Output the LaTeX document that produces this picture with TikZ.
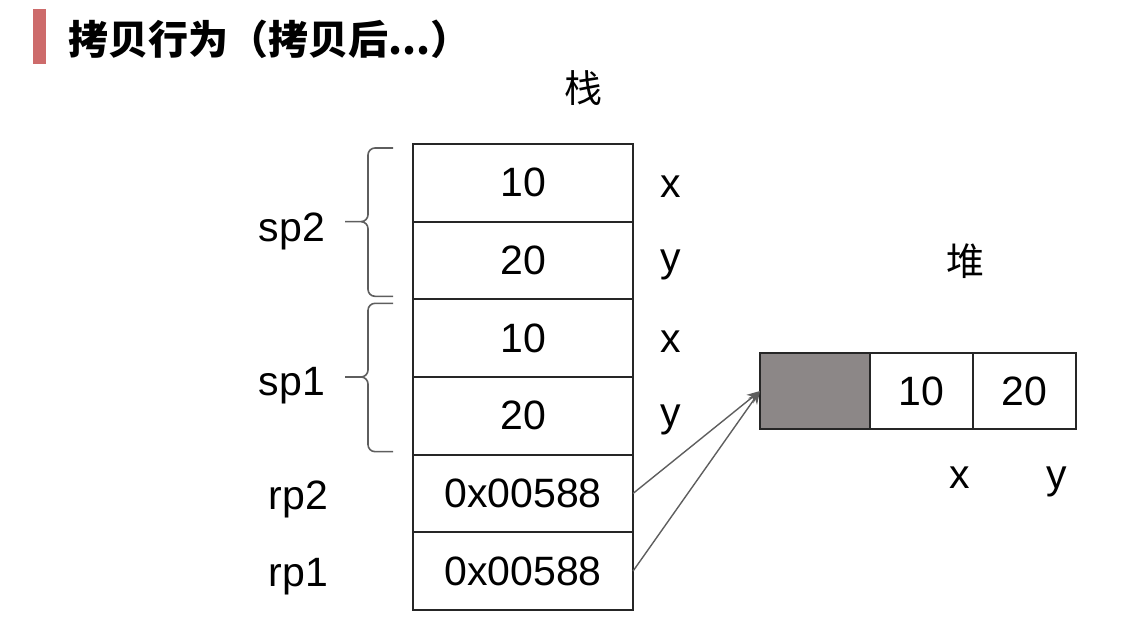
\documentclass[tikz,border=0pt]{standalone}
\usepackage{fontspec}
\setmainfont{Liberation Sans}
\newfontfamily\cjk{Noto Sans CJK SC}
\usetikzlibrary{positioning, arrows.meta}
\definecolor{barred}{HTML}{CD6B6B}
\definecolor{heapgray}{HTML}{8C8787}
\definecolor{linegray}{HTML}{5E5E5E}

\begin{document}
\begin{tikzpicture}[x=0.5pt, y=-0.5pt,
  every node/.style={inner sep=0pt, outer sep=0pt, font=\fontsize{20.5}{24}\selectfont},
  cell/.style={draw=black!85, line width=1.1pt, minimum width=110pt, minimum height=38.83pt},
  hcell/.style={cell, minimum width=51.5pt, minimum height=38pt},
  hd/.style={font=\fontsize{19}{22}\selectfont\cjk},
  side/.style={yshift=-2pt},
  brc/.style={draw=linegray, line width=0.8pt, rounded corners=3.5pt},
  ptr/.style={draw=linegray, line width=0.7pt, -{Stealth[length=6.5pt, width=5.5pt]}}]
  \useasboundingbox (0,0) rectangle (1128,624);
  \fill[barred] (33,9) rectangle (46,64);
  \node[anchor=west, font=\fontsize{20}{24}\selectfont\cjk\bfseries] (title) at (68,39) {拷贝行为（拷贝后...）};

  \node[cell, anchor=north west] (s1) at (413,144) {10};
  \node[cell, below=0pt of s1] (s2) {20};
  \node[cell, below=0pt of s2] (s3) {10};
  \node[cell, below=0pt of s3] (s4) {20};
  \node[cell, below=0pt of s4] (s5) {0x00588};
  \node[cell, below=0pt of s5] (s6) {0x00588};
  \node[hd, above=19pt of s1, xshift=30pt] (stack) {栈};
  \foreach \c/\v in {s1/x, s2/y, s3/x, s4/y}
    \node[side, right=13.5pt of \c] (\c v) {\v};

  \node[side, left=44pt of s1.south west, yshift=-3pt] (sp2) {sp2};
  \node[side, left=44pt of s3.south west, yshift=-2.5pt] (sp1) {sp1};
  \node[side, left=42.5pt of s5, yshift=-1pt] (rp2) {rp2};
  \node[side, left=42.5pt of s6, yshift=-1pt] (rp1) {rp1};
  \foreach \t/\b in {s1/s2, s3/s4}
    \draw[brc] ([xshift=-10pt, yshift=-2pt]\t.north west) -| ([xshift=-22.5pt]\t.south west) -- ([xshift=-34pt]\t.south west)
      ([xshift=-34pt]\t.south west) -- ([xshift=-22.5pt]\t.south west) |- ([xshift=-10pt, yshift=1.5pt]\b.south west);

  \node[cell, fill=heapgray, minimum width=55pt, minimum height=38pt, anchor=north west] (h0) at (760,353) {};
  \node[hcell, right=0pt of h0] (h1) {10};
  \node[hcell, right=0pt of h1] (h2) {20};
  \node[hd, above=37pt of h1.north east, xshift=-4pt] (heap) {堆};
  \node[below=19pt of h1, xshift=19pt] (h1v) {x};
  \node[below=19pt of h2, xshift=16pt] (h2v) {y};

  \draw[ptr] (s5.east) -- (h0.west);
  \draw[ptr] (s6.east) -- (h0.west);
\end{tikzpicture}
\end{document}
